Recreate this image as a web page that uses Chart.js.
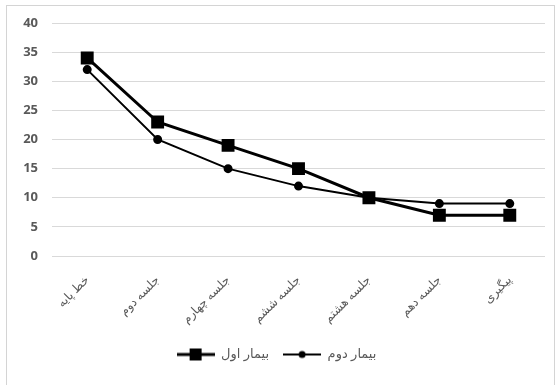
<!DOCTYPE html>
<html>
<head>
<meta charset="utf-8">
<title>Sessions chart</title>
<script src="https://cdn.jsdelivr.net/npm/chart.js@4.4.1/dist/chart.umd.min.js"></script>
<style>
  html, body { margin: 0; padding: 0; background: #fff; }
  #wrap { position: relative; width: 560px; height: 385px; }
</style>
</head>
<body>
<div id="wrap"><canvas id="chart"></canvas></div>
<script>
// --- Data ---
const sessions = ['خط پایه', 'جلسه دوم', 'جلسه چهارم', 'جلسه ششم', 'جلسه هشتم', 'جلسه دهم', 'پیگیری'];
const patientOne = [34, 23, 19, 15, 10, 7, 7];
const patientTwo = [32, 20, 15, 12, 10, 9, 9];
const yTicks = [0, 5, 10, 15, 20, 25, 30, 35, 40];

const FONT = "'Open Sans', 'DejaVu Sans', sans-serif";

// little line + marker swatch for the legend
function legendSwatch(kind) {
  const c = document.createElement('canvas');
  c.width = 38; c.height = 14;
  const g = c.getContext('2d');
  g.strokeStyle = '#000';
  g.fillStyle = '#000';
  g.lineWidth = kind === 'square' ? 3 : 2;
  g.beginPath();
  g.moveTo(0, 7); g.lineTo(38, 7);
  g.stroke();
  if (kind === 'square') {
    g.fillRect(13, 1, 12, 12);
  } else {
    g.beginPath();
    g.arc(19, 7, 3.5, 0, Math.PI * 2);
    g.fill();
  }
  return c;
}

// frame around the chart area
const framePlugin = {
  id: 'frame',
  beforeDraw(chart) {
    const ctx = chart.ctx;
    ctx.save();
    ctx.fillStyle = '#fff';
    ctx.fillRect(0, 0, chart.width, chart.height);
    ctx.strokeStyle = '#d4d4d4';
    ctx.lineWidth = 1;
    ctx.strokeRect(6.5, 5.5, chart.width - 12, chart.height + 10);
    ctx.restore();
  }
};

new Chart(document.getElementById('chart'), {
  type: 'line',
  data: {
    labels: sessions,
    datasets: [
      {
        label: 'بیمار اول',
        data: patientOne,
        borderColor: '#000',
        backgroundColor: '#000',
        borderWidth: 3,
        pointStyle: 'rect',
        pointRadius: 7,
        pointHoverRadius: 7,
        tension: 0,
        order: 0,
      },
      {
        label: 'بیمار دوم',
        data: patientTwo,
        borderColor: '#000',
        backgroundColor: '#000',
        borderWidth: 2,
        pointStyle: 'circle',
        pointRadius: 3.5,
        pointHoverRadius: 3.5,
        tension: 0,
        order: 1,
      },
    ],
  },
  options: {
    responsive: true,
    maintainAspectRatio: false,
    animation: false,
    layout: { padding: { left: 8, right: 15, top: 23, bottom: 14 } },
    plugins: {
      tooltip: { enabled: false },
      legend: {
        position: 'bottom',
        labels: {
          usePointStyle: true,
          pointStyleWidth: 38,
          boxHeight: 14,
          padding: 14,
          color: '#595959',
          font: { family: FONT, size: 13 },
          generateLabels(chart) {
            return chart.data.datasets.map((ds, i) => ({
              text: ds.label,
              pointStyle: legendSwatch(i === 0 ? 'square' : 'circle'),
              fillStyle: '#000',
              strokeStyle: '#000',
              lineWidth: 0,
              fontColor: '#595959',
              hidden: false,
              datasetIndex: i,
            }));
          },
        },
      },
    },
    scales: {
      x: {
        offset: true,
        grid: { display: false },
        border: { display: false },
        ticks: {
          color: '#595959',
          font: { family: FONT, size: 12 },
          minRotation: 45,
          maxRotation: 45,
          padding: 9,
        },
        afterFit(scale) { scale.height = 78; },
      },
      y: {
        min: 0,
        max: 40,
        afterBuildTicks(scale) { scale.ticks = yTicks.map(v => ({ value: v })); },
        grid: { color: '#d9d9d9', drawTicks: false },
        border: { display: false },
        ticks: {
          color: '#595959',
          font: { family: FONT, size: 13, weight: 'bold' },
          padding: 14,
        },
        afterFit(scale) { scale.width = 44; },
      },
    },
  },
  plugins: [framePlugin],
});
</script>
</body>
</html>
